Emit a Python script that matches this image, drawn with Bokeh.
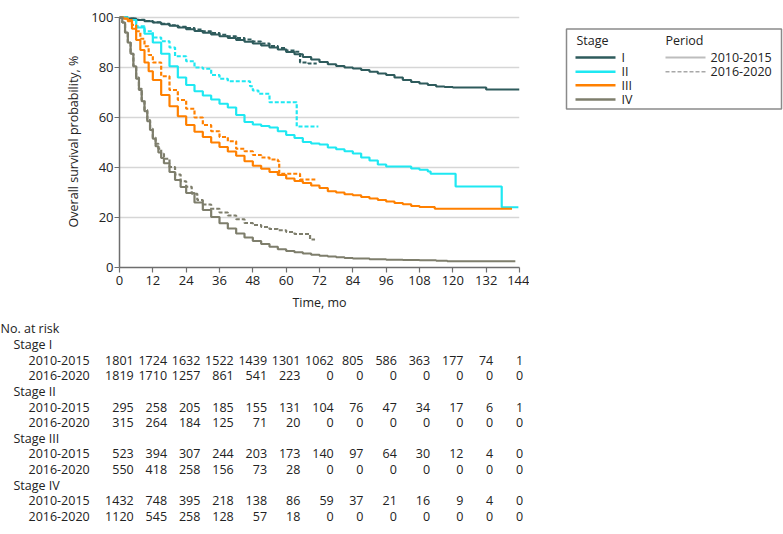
from bokeh.plotting import figure
from bokeh.models import Range1d, FixedTicker, ColumnDataSource
from bokeh.layouts import column, row
from bokeh.embed import file_html
from bokeh.resources import INLINE
from bokeh.core.properties import value

# ---------------- data ----------------
month_ticks = [0, 12, 24, 36, 48, 60, 72, 84, 96, 108, 120, 132, 144]
surv_ticks = [0, 20, 40, 60, 80, 100]
stage_names = ["I", "II", "III", "IV"]
period_names = ["2010-2015", "2016-2020"]
stage_colors = ["#2e5b5c", "#1ee8f2", "#ff8000", "#7e7e6c"]

# Stage I
st1_p1_t = [0, 3, 6, 9, 12, 15, 18, 21, 24, 27, 30, 33, 36, 39, 42, 45, 48, 51, 54, 57, 60, 63, 66, 69,
            72, 75, 78, 81, 84, 87, 90, 93, 96, 99, 102, 105, 108, 111, 114, 117, 120, 126, 132, 144]
st1_p1_s = [100, 99.6, 99.0, 98.5, 98.0, 97.3, 96.7, 96.0, 95.3, 94.6, 93.9, 93.2, 92.5, 91.8, 91.0, 90.3,
            89.6, 88.8, 88.0, 87.2, 86.2, 85.3, 84.2, 83.2, 82.2, 81.3, 80.6, 80.0, 79.6, 79.0, 78.3, 77.6,
            77.0, 76.0, 75.0, 74.2, 73.6, 73.0, 72.4, 72.2, 72.0, 72.0, 71.2, 71.2]
st1_p2_t = [0, 3, 6, 9, 12, 15, 18, 21, 24, 27, 30, 33, 36, 39, 42, 45, 48, 51, 54, 57, 60, 63, 65, 68, 71]
st1_p2_s = [100, 99.6, 99.1, 98.6, 98.1, 97.5, 96.9, 96.3, 95.8, 95.2, 94.5, 93.8, 93.1, 92.5, 91.8, 91.2,
            90.4, 89.6, 88.6, 87.8, 86.8, 86.3, 82.0, 81.6, 81.6]

# Stage II
st2_p1_t = [0, 3, 6, 9, 12, 15, 18, 21, 24, 27, 30, 33, 36, 39, 42, 45, 48, 51, 54, 57, 60, 63, 66, 69,
            72, 75, 78, 81, 84, 87, 90, 93, 96, 102, 105, 108, 111, 112, 121, 137.6, 143.6]
st2_p1_s = [100, 99, 96, 93.5, 90, 85.5, 80.5, 76, 73, 70.5, 68.8, 67.2, 65.5, 64, 61, 58.2, 57.2, 56.6,
            56, 54.5, 53, 51.8, 50.2, 49.6, 49.2, 48, 47.3, 46.5, 45.6, 44, 42.8, 41.2, 40.4, 40.4, 39.6,
            39.1, 38.4, 37.5, 32.4, 24.1, 24.1]
st2_p2_t = [0, 3, 6, 9, 12, 15, 18, 20, 24, 27, 30, 33, 36, 39, 47, 48, 50, 54, 63.8, 71.6]
st2_p2_s = [100, 99, 96.5, 94.5, 92, 90.5, 88, 84.5, 82.5, 80, 79.5, 77, 75.5, 74.5, 72.5, 70.8, 69.5,
            66.1, 56.4, 56.4]

# Stage III
st3_p1_t = [0, 1.5, 3, 4.5, 6, 7.5, 9, 10.5, 12, 15, 18, 21, 24, 27, 30, 33, 36, 39, 42, 45, 48, 51, 54,
            57, 60, 63, 66, 69, 72, 75, 78, 81, 84, 87, 90, 93, 96, 99, 102, 105, 108, 113.5, 141.3]
st3_p1_s = [100, 99.5, 98.5, 95.5, 91, 87, 82, 78.5, 75, 69, 64.5, 60.5, 57, 54.3, 52.2, 50, 48.2, 46.4,
            44.7, 42.5, 40.7, 39.5, 38.2, 37, 35.6, 34.6, 33.8, 32.8, 31.8, 30.5, 30, 29.3, 28.9, 28.2,
            27.6, 27, 26.4, 25.8, 25.3, 24.6, 24.2, 23.5, 23.5]
st3_p2_t = [0, 1.5, 3, 4.5, 6, 7.5, 9, 10.5, 12, 15, 18, 21, 24, 27, 30, 33, 36, 39, 42, 45, 48, 51, 54,
            57, 57.5, 65, 70.5]
st3_p2_s = [100, 99.6, 99, 97, 94.5, 91.5, 88.5, 85, 82, 76.5, 71, 67, 63.5, 60, 57, 54.5, 52.2, 50.5,
            47.5, 46.5, 45, 44, 43.2, 42.5, 37.5, 35.2, 35.2]

# Stage IV
st4_p1_t = [0, 1, 2, 3, 4, 5, 6, 7, 8, 9, 10, 11, 12, 13, 14, 15, 16, 18, 20, 22, 24, 27, 30, 33, 36,
            39, 42, 45, 48, 51, 54, 57, 60, 63, 66, 69, 72, 75, 78, 81, 84, 90, 96, 102, 108, 114, 118,
            142.5]
st4_p1_s = [100, 98, 94, 90, 85.5, 80.5, 75.5, 71, 66.5, 62.5, 58.5, 55, 51.5, 48.5, 46, 43.8, 41.7, 38.2,
            35, 32.2, 29.8, 26, 23, 20.2, 17.7, 15.6, 13.6, 12, 10.6, 9.4, 8.3, 7.3, 6.6, 6.1, 5.6, 5.1,
            4.7, 4.4, 4.1, 3.8, 3.6, 3.3, 3.1, 3.0, 2.9, 2.7, 2.5, 2.5]
st4_p2_t = [0, 1, 2, 3, 4, 5, 6, 7, 8, 9, 10, 11, 12, 13, 14, 15, 16, 18, 20, 22, 24, 26, 28, 30, 33,
            36, 39, 42, 45, 48, 51, 54, 57, 60, 63, 68.6, 70.4]
st4_p2_s = [100, 98, 94, 90, 85.5, 80.5, 76, 71.5, 67, 63, 59, 55.5, 52, 49.5, 47.5, 45.5, 43.5, 40.2,
            37.2, 34.5, 32.3, 29.5, 27, 25.2, 23.5, 22, 20.8, 19.3, 17.8, 17, 16.2, 15.4, 14.9, 14.2,
            13.4, 11.2, 11.2]

curves = [
    [(st1_p1_t, st1_p1_s), (st1_p2_t, st1_p2_s)],
    [(st2_p1_t, st2_p1_s), (st2_p2_t, st2_p2_s)],
    [(st3_p1_t, st3_p1_s), (st3_p2_t, st3_p2_s)],
    [(st4_p1_t, st4_p1_s), (st4_p2_t, st4_p2_s)],
]

# Numbers at risk
risk_st1_p1 = [1801, 1724, 1632, 1522, 1439, 1301, 1062, 805, 586, 363, 177, 74, 1]
risk_st1_p2 = [1819, 1710, 1257, 861, 541, 223, 0, 0, 0, 0, 0, 0, 0]
risk_st2_p1 = [295, 258, 205, 185, 155, 131, 104, 76, 47, 34, 17, 6, 1]
risk_st2_p2 = [315, 264, 184, 125, 71, 20, 0, 0, 0, 0, 0, 0, 0]
risk_st3_p1 = [523, 394, 307, 244, 203, 173, 140, 97, 64, 30, 12, 4, 0]
risk_st3_p2 = [550, 418, 258, 156, 73, 28, 0, 0, 0, 0, 0, 0, 0]
risk_st4_p1 = [1432, 748, 395, 218, 138, 86, 59, 37, 21, 16, 9, 4, 0]
risk_st4_p2 = [1120, 545, 258, 128, 57, 18, 0, 0, 0, 0, 0, 0, 0]
risk = [[risk_st1_p1, risk_st1_p2], [risk_st2_p1, risk_st2_p2],
        [risk_st3_p1, risk_st3_p2], [risk_st4_p1, risk_st4_p2]]

# ---------------- style ----------------
FONT = "Open Sans"
TXT = "#222222"
AX = "#6e6e6e"
FS = "12.5px"
DASH = "4 2"

LEFT = 119
FRAME_W = 400
P_W = 529
P_H = 318
TOP = 15
BOTTOM = 51

# ---------------- main plot ----------------
p = figure(width=P_W, height=P_H, x_range=Range1d(0, 144), y_range=Range1d(0, 100.8),
           output_backend="svg", toolbar_location=None,
           min_border_left=LEFT, min_border_right=P_W - LEFT - FRAME_W,
           min_border_top=TOP, min_border_bottom=BOTTOM)
p.outline_line_color = None
p.background_fill_color = "white"
p.border_fill_color = "white"

p.xgrid.visible = False
p.ygrid.ticker = FixedTicker(ticks=surv_ticks[1:])
p.ygrid.grid_line_color = "#d6d6d6"
p.ygrid.grid_line_width = 1.5

p.xaxis.ticker = FixedTicker(ticks=month_ticks)
p.yaxis.ticker = FixedTicker(ticks=surv_ticks)
p.yaxis.bounds = (0, 100)
for ax in (p.xaxis, p.yaxis):
    ax.axis_line_color = AX
    ax.axis_line_width = 1.5
    ax.major_tick_line_color = AX
    ax.major_tick_line_width = 1.2
    ax.major_tick_out = 5
    ax.major_tick_in = 0
    ax.minor_tick_line_color = None
    ax.major_label_text_font = FONT
    ax.major_label_text_font_size = "13px"
    ax.major_label_text_color = TXT
    ax.axis_label_text_font = FONT
    ax.axis_label_text_font_size = FS
    ax.axis_label_text_font_style = "normal"
    ax.axis_label_text_color = TXT
p.xaxis.axis_label = "Time, mo"
p.yaxis.axis_label = "Overall survival probability, %"
p.xaxis.major_label_standoff = 3
p.xaxis.axis_label_standoff = 6
p.yaxis.major_label_standoff = 1
p.yaxis.axis_label_standoff = 6

for si, stage in enumerate(curves):
    for pi, (t, s) in enumerate(stage):
        src = ColumnDataSource(dict(t=t, s=s))
        p.step("t", "s", source=src, mode="after", line_width=2.2,
               line_color=stage_colors[si],
               line_dash="solid" if pi == 0 else DASH)

# ---------------- legend panel (pixel coordinates, y downwards) ----------------
LG_W = 783 - P_W
lg = figure(width=LG_W, height=P_H,
            x_range=Range1d(0, LG_W), y_range=Range1d(P_H, 0),
            output_backend="svg", toolbar_location=None,
            x_axis_location=None, y_axis_location=None, min_border=0)
lg.grid.visible = False
lg.outline_line_color = None
lg.border_fill_color = "white"
lg.background_fill_color = "white"

lg.quad(left=[37], right=[252], top=[17], bottom=[118], fill_color=None,
        line_color="#8a8a8a", line_width=1.5)
row_y = [53, 71, 88, 106]
lg.text(x=[47, 136], y=[32, 32], text=["Stage", "Period"], text_font=value(FONT),
        text_font_size=FS, text_color=TXT, text_baseline="middle", text_align="left")
lg.segment(x0=[46] * 4, x1=[86] * 4, y0=row_y, y1=row_y, line_color=stage_colors, line_width=2.5)
lg.text(x=[92] * 4, y=row_y, text=stage_names, text_font=value(FONT), text_font_size=FS,
        text_color=TXT, text_baseline="middle", text_align="left")
lg.segment(x0=[136], x1=[176], y0=row_y[:1], y1=row_y[:1], line_color="#bdbdbd", line_width=2)
lg.segment(x0=[136], x1=[176], y0=row_y[1:2], y1=row_y[1:2], line_color="#a8a8a8",
           line_width=1.5, line_dash=DASH)
lg.text(x=[181, 181], y=row_y[:2], text=period_names, text_font=value(FONT), text_font_size=FS,
        text_color=TXT, text_baseline="middle", text_align="left")

# ---------------- risk table ----------------
T_H = 534 - P_H
px_per_mo = FRAME_W / 144
x0 = -LEFT / px_per_mo
x1 = x0 + P_W / px_per_mo
row_gap = 15.64
first_y = 10.3
tb = figure(width=P_W, height=T_H,
            x_range=Range1d(x0, x1),
            y_range=Range1d((T_H - first_y) / row_gap, -first_y / row_gap),
            output_backend="svg", toolbar_location=None,
            x_axis_location=None, y_axis_location=None,
            min_border=0)
tb.grid.visible = False
tb.outline_line_color = None
tb.border_fill_color = "white"

lab_text, lab_y, lab_off = ["No. at risk"], [0], [0]
num_x, num_y, num_t = [], [], []
r = 1
for si, sname in enumerate(stage_names):
    lab_text.append("Stage " + sname); lab_y.append(r); lab_off.append(13); r += 1
    for pi, pname in enumerate(period_names):
        lab_text.append(pname); lab_y.append(r); lab_off.append(28)
        for j, n in enumerate(risk[si][pi]):
            num_x.append(month_ticks[j]); num_y.append(r); num_t.append(str(n))
        r += 1

col_w = {}
for x, t in zip(num_x, num_t):
    col_w[x] = max(col_w.get(x, 0), len(t))
num_off = [col_w[x] * 7.1 / 2 for x in num_x]

tb.text(x=[x0] * len(lab_text), y=lab_y, text=lab_text, x_offset=lab_off,
        text_font=value(FONT), text_font_size=FS, text_color=TXT,
        text_baseline="middle", text_align="left")
tb.text(source=ColumnDataSource(dict(x=num_x, y=num_y, t=num_t, o=num_off)),
        x="x", y="y", text="t", x_offset="o",
        text_font=value(FONT), text_font_size=FS, text_color=TXT,
        text_baseline="middle", text_align="right")

layout = column(row(p, lg), tb)
open("out.html", "w").write(file_html(layout, INLINE))
